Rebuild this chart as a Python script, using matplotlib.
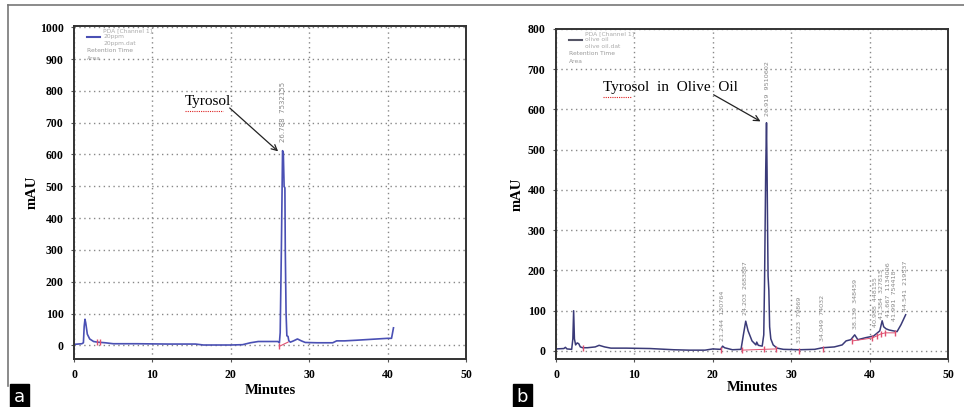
import matplotlib.pyplot as plt
from matplotlib.lines import Line2D
import numpy as np

# панель a: стандарт тирозола 20 ppm
t_a = [0, 0.5, 1.0, 1.2, 1.3, 1.4, 1.5, 1.7, 2.0, 2.5, 3.0, 3.5, 4.0, 5.0, 8.0,
       12.0, 15.5, 16.5, 20.0, 21.5, 22.5, 23.5, 25.0, 26.0, 26.2, 26.3, 26.45,
       26.6, 26.7, 26.8, 26.9, 26.95, 27.05, 27.15, 27.3, 27.4, 27.6, 28.0, 28.5,
       29.0, 29.5, 31.0, 33.0, 33.5, 34.5, 36.0, 38.0, 40.0, 40.5, 40.6, 40.75]
y_a = [3, 4, 5, 8, 60, 82, 70, 35, 20, 12, 10, 9, 8, 5, 5,
       4, 4, 1, 1, 2, 8, 12, 12, 12, 8, 40, 300,
       612, 605, 500, 495, 300, 100, 30, 28, 14, 10, 14, 20,
       14, 9, 8, 8, 14, 14, 16, 19, 22, 22, 35, 55]

# панель b: оливковое масло
t_b = [0, 1.0, 1.2, 1.4, 2.0, 2.15, 2.25, 2.35, 2.5, 2.7, 2.9, 3.1, 3.4, 4.0,
       5.0, 5.5, 6.2, 7.0, 9.0, 12.0, 15.0, 17.0, 19.0, 20.0, 21.0, 21.25, 21.5,
       22.5, 23.6, 23.9, 24.2, 24.5, 25.0, 25.5, 25.6, 25.8, 26.3, 26.5, 26.6,
       26.75, 26.85, 26.92, 27.0, 27.05, 27.15, 27.25, 27.4, 27.7, 28.2, 29.0,
       31.0, 33.0, 34.0, 35.5, 36.5, 37.0, 37.6, 38.1, 38.5, 39.5, 40.5, 41.0,
       41.3, 41.6, 41.8, 42.1, 42.5, 43.0, 43.5, 44.0, 44.6]
y_b = [5, 6, 9, 5, 4, 30, 100, 30, 15, 20, 18, 10, 8, 8,
       10, 14, 10, 7, 7, 6, 3, 2, 2, 5, 4, 12, 8,
       3, 4, 40, 74, 50, 25, 15, 22, 14, 12, 40, 170,
       450, 567, 450, 280, 186, 150, 60, 30, 15, 7, 4,
       3, 4, 8, 10, 15, 25, 28, 40, 28, 33, 37, 45,
       50, 75, 60, 55, 52, 50, 48, 65, 90]

# красные метки интегрирования
red_a_t = [2.9, 3.3, 26.2]
red_a_y = [12, 10, -3]
red_b_t = [3.5, 21.0, 23.7, 26.5, 28.0, 31.0, 34.0, 37.8, 40.3, 41.0, 41.4, 42.0, 43.3]
red_b_y = [8, 2, 2, 5, 5, 0, 5, 25, 32, 38, 42, 45, 45]

# подписи пиков (время, где стоит подпись, высота, текст)
peak_a = [(26.65, 640, "26.788  7532155")]
peak_b = [(21.244, 25, "21.244  130764"), (24.203, 90, "24.203  2683887"),
          (26.919, 585, "26.919  9510602"), (31.023, 20, "31.023  79869"),
          (34.049, 25, "34.049  74032"), (38.139, 55, "38.139  348459"),
          (40.75, 60, "40.988  448155"), (41.55, 80, "41.384  327815"),
          (42.35, 85, "41.667  1134006"), (43.15, 75, "41.991  754418"),
          (44.541, 100, "44.541  219537")]

serif = "Liberation Serif"
fig = plt.figure(figsize=(9.64, 4.07), dpi=100)
W, H = 964, 407


def make_axes(l, t, r, b):
    return fig.add_axes([l / W, 1 - b / H, (r - l) / W, (b - t) / H])


def style(ax, ylim, yticks, ypad, xpad):
    ax.set_xlim(0, 50)
    ax.set_ylim(*ylim)
    ax.set_xticks(np.arange(0, 51, 10))
    ax.set_yticks(yticks)
    ax.grid(True, color="#888888", linestyle=(0, (1, 2.5)), linewidth=1.0)
    for s in ax.spines.values():
        s.set_color("#333333")
        s.set_linewidth(1.4)
    ax.tick_params(length=2.5, width=0.8, color="#555555", pad=5)
    for lab in ax.get_xticklabels() + ax.get_yticklabels():
        lab.set_fontfamily(serif)
        lab.set_fontweight("bold")
        lab.set_fontsize(8.5)
    ax.set_xlabel("Minutes", fontfamily=serif, fontweight="bold", fontsize=10.5, labelpad=xpad)
    ax.set_ylabel("mAU", fontfamily=serif, fontweight="bold", fontsize=10.5, labelpad=ypad)


def legend(ax, color, lines):
    ax.add_line(Line2D([0.033, 0.066], [0.968, 0.968], transform=ax.transAxes,
                       color=color, lw=1.5))
    for i, s in enumerate(lines):
        ax.text(0.074, 0.986 - i * 0.019, s, transform=ax.transAxes, fontsize=4.3,
                color="#aaaaaa", va="center")
    ax.text(0.033, 0.925, "Retention Time", transform=ax.transAxes, fontsize=4.3,
            color="#999999", va="center")
    ax.text(0.033, 0.902, "Area", transform=ax.transAxes, fontsize=4.3,
            color="#999999", va="center")


# ---- a ----
ax1 = make_axes(74, 26, 466, 359)
style(ax1, (-43, 1004), np.arange(0, 1001, 100), 1, 2)
ax1.plot(t_a, y_a, color="#4a50b4", lw=1.2)
ax1.plot(red_a_t, red_a_y, "|", color="#e05070", ms=4, mew=1)
ax1.plot([26.2, 27.3], [-3, 10], color="#e05070", lw=0.8)
for x, y, s in peak_a:
    ax1.text(x, y, s, rotation=90, fontsize=5, color="#888888", ha="center", va="bottom")
legend(ax1, "#4a50b4", ["PDA [Channel 1]", "20ppm", "20ppm.dat"])
ax1.text(14.1, 766, "Tyrosol", fontfamily=serif, fontsize=11, va="center", ha="left")
ax1.annotate("", xy=(26.3, 604), xytext=(19.6, 752),
             arrowprops=dict(arrowstyle="->", color="#222222", lw=0.9))
ax1.plot([14.1, 19.0], [738, 738], color="#dd2222", lw=0.8, ls=(0, (1, 1)))

# ---- b ----
ax2 = make_axes(556, 29, 948, 359)
style(ax2, (-20, 800), np.arange(0, 801, 100), 3, 0)
ax2.plot(t_b, y_b, color="#3a3a78", lw=1.1)
ax2.plot(red_b_t, red_b_y, "|", color="#e05070", ms=5, mew=1)
ax2.plot(red_b_t[2:5], [2, 4, 5], color="#e05070", lw=0.7)
ax2.plot(red_b_t[7:], red_b_y[7:], color="#e05070", lw=0.7)
for x, y, s in peak_b:
    ax2.text(x, y, s, rotation=90, fontsize=4.6, color="#888888", ha="center", va="bottom")
legend(ax2, "#555566", ["PDA [Channel 1]", "olive oil", "olive oil.dat"])
ax2.text(5.95, 654, "Tyrosol  in  Olive  Oil", fontfamily=serif, fontsize=11,
         va="center", ha="left")
ax2.annotate("", xy=(26.4, 567), xytext=(19.8, 640),
             arrowprops=dict(arrowstyle="->", color="#222222", lw=0.9))
ax2.plot([5.95, 9.6], [632, 632], color="#dd2222", lw=0.8, ls=(0, (1, 1)))

# рамка и буквы панелей
fig.add_artist(Line2D([8 / W, 1], [1 - 5 / H] * 2, color="#777777", lw=1.2))
fig.add_artist(Line2D([8 / W] * 2, [1 - 5 / H, 1 - 386 / H], color="#777777", lw=1.2))
for x, s in [(19.5, "a"), (522.5, "b")]:
    fig.text(x / W, 1 - 396.5 / H, s, color="white", fontsize=13, ha="center",
             va="center", bbox=dict(boxstyle="square,pad=0.2", fc="black", ec="black"))

fig.savefig("out.png", dpi=100)
